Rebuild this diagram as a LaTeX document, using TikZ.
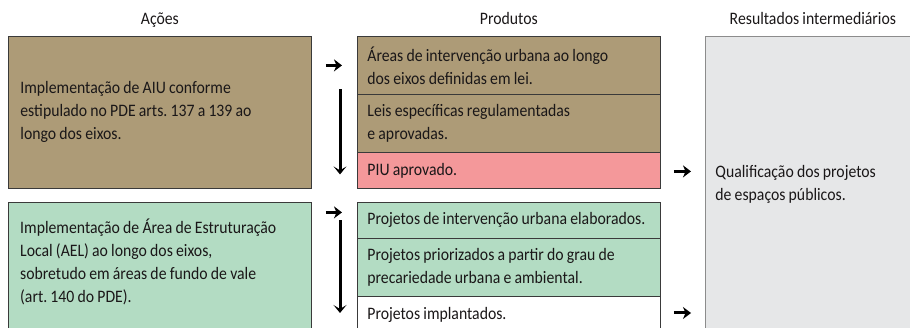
\documentclass[tikz,border=0pt]{standalone}
\usepackage{fontspec}
\setmainfont[FakeStretch=0.9,WordSpace=0.9]{Carlito}
\frenchspacing
\usetikzlibrary{arrows.meta,calc}
\definecolor{brownfill}{HTML}{AD9B77}
\definecolor{pinkfill}{HTML}{F4989A}
\definecolor{greenfill}{HTML}{B3DCC3}
\definecolor{greyfill}{HTML}{E6E7E8}
\definecolor{edgecol}{HTML}{3A3A3A}
\definecolor{resedge}{HTML}{8C8C8C}
\definecolor{txt}{HTML}{1A1718}
\begin{document}
\begin{tikzpicture}[x=1pt,y=-1pt,
  font=\fontsize{17.5}{23}\selectfont, text=txt,
  actbox/.style={draw=edgecol, line width=0.8pt, rectangle, anchor=north west,
    inner xsep=12pt, inner ysep=0pt, text width=279pt, align=flush left, minimum width=303pt},
  prodbox/.style={draw=edgecol, line width=0.8pt, rectangle, anchor=north west,
    inner xsep=10pt, inner ysep=0pt, text width=283pt, align=flush left, minimum width=303pt},
  resbox/.style={draw=resedge, line width=0.8pt, rectangle, anchor=north west, fill=greyfill,
    inner xsep=10pt, inner ysep=0pt, text width=195pt, align=flush left, minimum width=215pt},
  head/.style={anchor=base, inner sep=0pt},
  rarrow/.style={line width=3pt, -{Stealth[length=8pt,width=12pt,inset=2.5pt]}},
  darrow/.style={line width=3pt, -{Stealth[length=8pt,width=13pt,inset=4pt]}}
]
\useasboundingbox (0,0) rectangle (910,328);
\clip (0,0) rectangle (910,328);

% Actions
\node[actbox, fill=brownfill, minimum height=152pt] (a1) at (8,36)
  {Implementação de AIU conforme\\estipulado no PDE arts. 137 a 139 ao\\longo dos eixos.};
\node[actbox, fill=greenfill, minimum height=132pt] (a2) at (8,202) {};
\node[anchor=west, inner sep=0pt, align=flush left] (a2t) at ($(a2.west)+(12,-6)$)
  {Implementação de Área de Estruturação\\Local (AEL) ao longo dos eixos,\\sobretudo em áreas de fundo de vale\\(art. 140 do PDE).};

% Products
\node[prodbox, fill=brownfill, minimum height=58pt] (p1) at (357,36)
  {Áreas de intervenção urbana ao longo\\dos eixos definidas em lei.};
\node[prodbox, fill=brownfill, minimum height=58pt] (p2) at (357,94)
  {Leis específicas regulamentadas\\e aprovadas.};
\node[prodbox, fill=pinkfill, minimum height=36pt] (p3) at (357,152)
  {PIU aprovado.};
\node[prodbox, fill=greenfill, minimum height=36pt] (p4) at (357,202)
  {Projetos de intervenção urbana elaborados.};
\node[prodbox, fill=greenfill, minimum height=58pt] (p5) at (357,238)
  {Projetos priorizados a partir do grau de\\precariedade urbana e ambiental.};
\node[prodbox, fill=white, minimum height=38pt] (p6) at (357,296)
  {Projetos implantados.};

% Results
\node[resbox, minimum height=296pt] (res) at (705,36)
  {Qualificação dos projetos\\de espaços públicos.};

% Headers
\node[head] (hA) at ($(a1.north)+(0,-11)$) {Ações};
\node[head] (hP) at ($(p1.north)+(0,-11)$) {Produtos};
\node[head] (hR) at ($(res.north)+(0,-11)$) {Resultados intermediários};

% Right arrows actions -> products
\draw[rarrow] ($(a1.east |- p1.west)+(14,0)$) -- ($(p1.west)+(-15,0)$);
\draw[rarrow] ($(a2.east |- p4.west)+(14,-8)$) -- ($(p4.west)+(-15,-8)$);

% Down arrows
\draw[darrow] ($(p1.west)+(-17,24)$) -- ($(p3.west)+(-17,4)$);
\draw[darrow] ($(p4.west)+(-17,0)$) -- ($(p6.north west)+(-17,17)$);

% Right arrows products -> results
\draw[rarrow] ($(p3.east)+(13,1)$) -- ($(res.west |- p3.east)+(-14,1)$);
\draw[rarrow] ($(p6.north east)+(13,17)$) -- ($(res.west |- p6.north east)+(-14,17)$);
\end{tikzpicture}
\end{document}
